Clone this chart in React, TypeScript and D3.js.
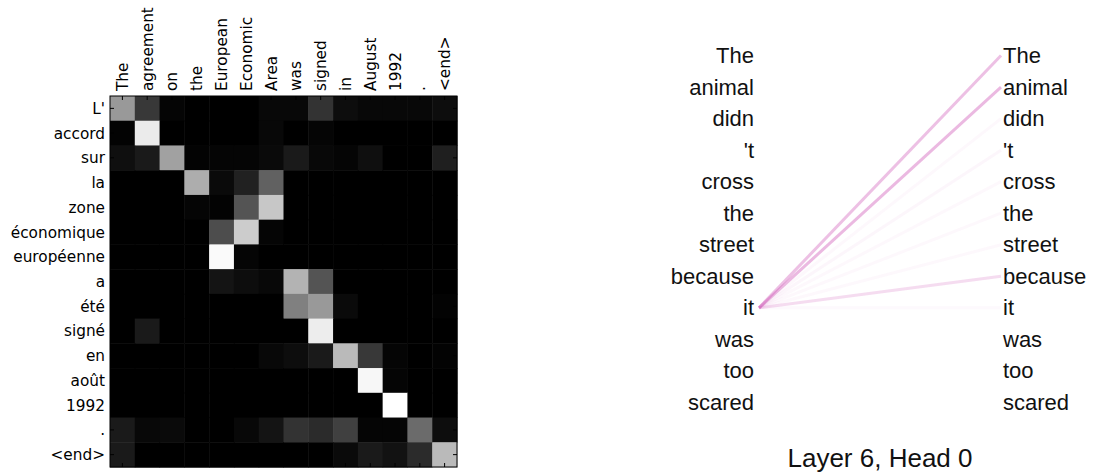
import React from "react"
import { scaleBand, scaleLinear, scalePoint, interpolateRgb } from "d3"

// source (English) tokens across the top, target (French) tokens down the side
const srcTokens = ["The", "agreement", "on", "the", "European", "Economic", "Area", "was", "signed", "in", "August", "1992", ".", "<end>"]
const tgtTokens = ["L'", "accord", "sur", "la", "zone", "économique", "européenne", "a", "été", "signé", "en", "août", "1992", ".", "<end>"]

// attention weights, one row per target token
const attL = [0.6, 0.22, 0.02, 0, 0, 0, 0.03, 0.03, 0.2, 0.05, 0.03, 0.03, 0.03, 0.05]
const attAccord = [0.01, 0.92, 0, 0, 0, 0, 0.03, 0, 0.02, 0, 0, 0, 0, 0]
const attSur = [0.06, 0.1, 0.63, 0.01, 0.02, 0.02, 0.04, 0.1, 0.03, 0.02, 0.06, 0, 0, 0.12]
const attLa = [0, 0, 0, 0.68, 0.04, 0.13, 0.38, 0, 0, 0, 0, 0, 0, 0]
const attZone = [0, 0, 0, 0.02, 0.01, 0.33, 0.78, 0, 0, 0, 0, 0, 0, 0]
const attEconomique = [0, 0, 0, 0, 0.3, 0.8, 0.02, 0, 0, 0, 0, 0, 0, 0]
const attEuropeenne = [0, 0, 0, 0, 0.98, 0.02, 0, 0, 0, 0, 0, 0, 0, 0]
const attA = [0, 0, 0, 0, 0.08, 0.05, 0.03, 0.7, 0.33, 0, 0, 0, 0, 0]
const attEte = [0, 0, 0, 0, 0, 0, 0, 0.5, 0.6, 0.04, 0, 0, 0, 0.01]
const attSigne = [0, 0.1, 0, 0, 0, 0, 0, 0, 0.93, 0, 0, 0, 0, 0]
const attEn = [0, 0, 0, 0, 0, 0, 0.03, 0.05, 0.1, 0.73, 0.22, 0.02, 0, 0.01]
const attAout = [0, 0, 0, 0, 0, 0, 0, 0, 0, 0, 0.97, 0.02, 0, 0]
const att1992 = [0, 0, 0, 0, 0, 0, 0, 0, 0, 0, 0, 1, 0, 0]
const attDot = [0.1, 0.03, 0.04, 0, 0, 0.03, 0.08, 0.2, 0.17, 0.25, 0.02, 0.02, 0.42, 0.05]
const attEnd = [0.1, 0, 0, 0, 0, 0, 0, 0, 0, 0.04, 0.1, 0.07, 0.17, 0.73]

const matrix = [attL, attAccord, attSur, attLa, attZone, attEconomique, attEuropeenne, attA, attEte, attSigne, attEn, attAout, att1992, attDot, attEnd]

// self-attention panel
const words = ["The", "animal", "didn", "'t", "cross", "the", "street", "because", "it", "was", "too", "scared"]
const fromWord = "it"
const itWeights = [0.36, 0.4, 0.04, 0.05, 0.04, 0.04, 0.04, 0.2, 0.03, 0, 0, 0]

const W = 1095
const H = 476

function AttentionMatrix() {
  const x = scaleBand().domain(srcTokens).range([110, 457])
  const y = scaleBand().domain(tgtTokens).range([96, 467])
  const shade = scaleLinear<string>().domain([0, 1]).range(["#000000", "#ffffff"]).interpolate(interpolateRgb)
  const font = "'DejaVu Sans', sans-serif"
  const tick = 4
  const [x0, x1] = x.range()
  const [y0, y1] = y.range()

  return (
    <g>
      {matrix.map((row, i) =>
        row.map((v, j) => (
          <rect
            key={`${i}-${j}`}
            x={x(srcTokens[j])!}
            y={y(tgtTokens[i])!}
            width={x.bandwidth() + 0.5}
            height={y.bandwidth() + 0.5}
            fill={shade(v)}
          />
        ))
      )}
      <rect x={x0} y={y0} width={x1 - x0} height={y1 - y0} fill="none" stroke="#000" strokeWidth={1} />
      {srcTokens.map((t) => {
        const cx = x(t)! + x.bandwidth() / 2
        return (
          <g key={t}>
            <line x1={cx} x2={cx} y1={y0} y2={y0 + tick} stroke="#000" />
            <line x1={cx} x2={cx} y1={y1} y2={y1 - tick} stroke="#000" />
            <text
              transform={`translate(${cx},${y0 - 5}) rotate(-90)`}
              dy="0.36em"
              fontFamily={font}
              fontSize={15.3}
              fill="#000"
            >
              {t}
            </text>
          </g>
        )
      })}
      {tgtTokens.map((t) => {
        const cy = y(t)! + y.bandwidth() / 2
        return (
          <g key={t}>
            <line x1={x0} x2={x0 + tick} y1={cy} y2={cy} stroke="#000" />
            <line x1={x1} x2={x1 - tick} y1={cy} y2={cy} stroke="#000" />
            <text x={x0 - 5} y={cy} dy="0.36em" textAnchor="end" fontFamily={font} fontSize={15.3} fill="#000">
              {t}
            </text>
          </g>
        )
      })}
    </g>
  )
}

function SelfAttention() {
  const y = scalePoint().domain(words.map((w, i) => `${i}`)).range([63, 410])
  const leftX = 754
  const rightX = 1003
  const font = "'Liberation Sans', Arial, Helvetica, sans-serif"
  const fromY = y(`${words.indexOf(fromWord)}`)! - 7.5

  return (
    <g>
      {itWeights.map((w, i) =>
        w > 0 ? (
          <line
            key={i}
            x1={leftX + 5}
            y1={fromY}
            x2={rightX - 2}
            y2={y(`${i}`)! - 7.5}
            stroke="#cc4fb3"
            strokeOpacity={w}
            strokeWidth={3}
          />
        ) : null
      )}
      {words.map((w, i) => (
        <g key={i}>
          <text x={leftX} y={y(`${i}`)} textAnchor="end" fontFamily={font} fontSize={22} fill="#111">
            {w}
          </text>
          <text x={rightX} y={y(`${i}`)} fontFamily={font} fontSize={22} fill="#111">
            {w}
          </text>
        </g>
      ))}
      <text x={880} y={467} textAnchor="middle" fontFamily={font} fontSize={26} fill="#111">
        Layer 6, Head 0
      </text>
    </g>
  )
}

export default function App() {
  return (
    <svg
      width={W}
      height={H}
      viewBox={`0 0 ${W} ${H}`}
      style={{ position: "absolute", left: 0, top: 0, background: "#fff" }}
    >
      <AttentionMatrix />
      <SelfAttention />
    </svg>
  )
}
